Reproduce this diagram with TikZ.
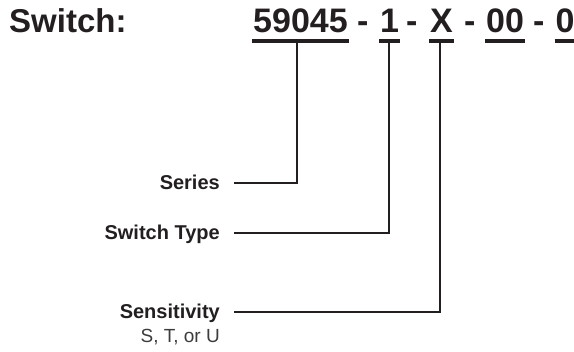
\documentclass[tikz,border=0pt]{standalone}
\usepackage{fontspec}
\setmainfont{Liberation Sans}
\usepackage{tikz}
\definecolor{ink}{HTML}{231F20}
\definecolor{subink}{HTML}{3C3C3C}

\begin{document}
\begin{tikzpicture}[x=1pt,y=1pt,
  code/.style={inner xsep=1pt,inner ysep=7.5pt,text depth=0pt,anchor=base west,font=\fontsize{34}{36}\selectfont\bfseries,text=ink},
  sepchar/.style={inner sep=0pt,anchor=base west,font=\fontsize{34}{36}\selectfont\bfseries,text=ink},
  lbl/.style={inner sep=0pt,text height=14pt,text depth=0pt,anchor=base east,font=\fontsize{20}{22}\selectfont\bfseries,text=ink},
  uline/.style={draw=ink,line width=4pt},
  lead/.style={draw=ink,line width=2pt}]
\useasboundingbox (0,0) rectangle (574,352);
% part number
\node[sepchar] (title) at (9,319) {\fontsize{33}{36}\selectfont Switch:};
\node[code] (series) at (252,319) {59045};
\node[sepchar] (h1) at (357,319) {-};
\node[code] (type) at (379,319) {1};
\node[sepchar] (h2) at (406,319) {-};
\node[code] (sens) at (429,319) {X};
\node[sepchar] (h3) at (464,319) {-};
\node[code] (opt) at (485,319) {00};
\node[sepchar] (h4) at (533,319) {-};
\node[code] (last) at (554.5,319) {0};
\foreach \c in {series,type,sens,opt,last}
  \draw[uline] (\c.south west)--(\c.south east);
% labels
\node[lbl] (lseries) at (220,162) {Series};
\node[lbl] (ltype) at (220,112) {Switch Type};
\node[lbl] (lsens) at (220,33) {Sensitivity};
\node[inner sep=0pt,anchor=base east,font=\fontsize{19}{21}\selectfont,text=subink] (lsensval) at (220,9) {S, T, or U};
% leaders
\draw[lead] ([xshift=14pt]lseries.east) -| ([xshift=-3pt]series.south);
\draw[lead] ([xshift=14pt]ltype.east) -| ([xshift=-1pt]type.south);
\draw[lead] ([xshift=14pt]lsens.east) -| ([xshift=-2pt]sens.south);
\end{tikzpicture}
\end{document}
